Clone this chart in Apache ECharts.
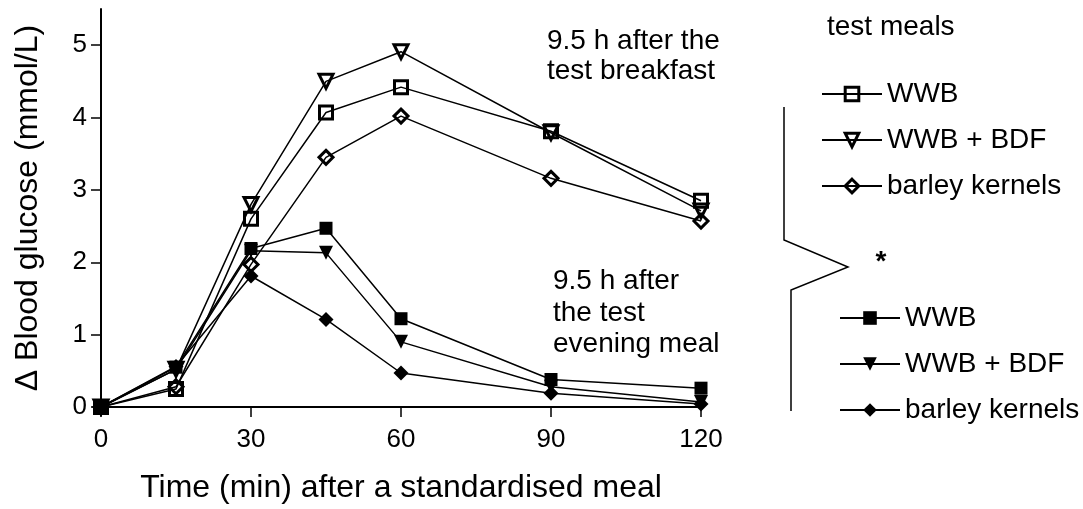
<!DOCTYPE html>
<html>
<head>
<meta charset="utf-8">
<script src="https://cdn.jsdelivr.net/npm/echarts@6/dist/echarts.min.js"></script>
<style>html,body{margin:0;padding:0;background:#fff;}#c{width:1083px;height:509px;}</style>
</head>
<body>
<div id="c"></div>
<script>
var times = [0, 15, 30, 45, 60, 90, 120];
var xTicks = [0, 30, 60, 90, 120];
var yTicks = [0, 1, 2, 3, 4, 5];
var breakfastWWB = [0, 0.25, 2.60, 4.07, 4.42, 3.81, 2.85];
var breakfastWWBBDF = [0, 0.52, 2.80, 4.50, 4.91, 3.79, 2.71];
var breakfastBarley = [0, 0.28, 1.97, 3.45, 4.02, 3.16, 2.57];
var eveningWWB = [0, 0.55, 2.19, 2.47, 1.22, 0.38, 0.26];
var eveningWWBBDF = [0, 0.52, 2.16, 2.13, 0.90, 0.28, 0.07];
var eveningBarley = [0, 0.56, 1.81, 1.21, 0.47, 0.19, 0.04];
var legendLabels = ['WWB', 'WWB + BDF', 'barley kernels'];

var FONT = 'Liberation Sans, Arial, sans-serif';
function pairs(v) { return times.map(function (t, i) { return [t, v[i]]; }); }
function mk(name, values, symbol, hollow, rotate, size) {
  return {
    type: 'line', name: name, data: pairs(values),
    symbol: symbol, symbolSize: size, symbolRotate: rotate || 0,
    showAllSymbol: true, animation: false,
    lineStyle: { color: '#000', width: 1.5 },
    itemStyle: hollow ? { color: 'rgba(0,0,0,0)', borderColor: '#000', borderWidth: 3 }
                      : { color: '#000', borderColor: '#000', borderWidth: 0 },
    emphasis: { disabled: true }
  };
}
var bNames = legendLabels.map(function (l) { return l + ' (b)'; });
var eNames = legendLabels.map(function (l) { return l + ' (e)'; });
function strip(n) { return n.replace(/ \((b|e)\)$/, ''); }

var chart = echarts.init(document.getElementById('c'), null, { renderer: 'canvas' });
chart.setOption({
  animation: false,
  backgroundColor: '#fff',
  textStyle: { fontFamily: FONT, color: '#000' },
  grid: { left: 101, right: 382, top: 9, bottom: 100 },
  xAxis: {
    type: 'value', min: 0, max: 120,
    name: 'Time (min) after a standardised meal', nameLocation: 'middle', nameGap: 65,
    nameTextStyle: { fontSize: 32, color: '#000', fontFamily: FONT },
    axisLine: { lineStyle: { color: '#000', width: 2 } },
    axisTick: { show: true, length: 10, lineStyle: { color: '#000', width: 1.5 }, customValues: xTicks },
    axisLabel: { fontSize: 26, color: '#000', margin: 20, fontFamily: FONT, customValues: xTicks },
    splitLine: { show: false }
  },
  yAxis: {
    type: 'value', min: 0, max: 5.5,
    name: '\u0394 Blood glucose (mmol/L)', nameLocation: 'middle', nameGap: 57,
    nameTextStyle: { fontSize: 32, color: '#000', fontFamily: FONT },
    axisLine: { show: true, lineStyle: { color: '#000', width: 2 } },
    axisTick: { show: true, length: 10, lineStyle: { color: '#000', width: 1.5 }, customValues: yTicks },
    axisLabel: { fontSize: 26, color: '#000', margin: 14, fontFamily: FONT, customValues: yTicks },
    splitLine: { show: false }
  },
  legend: [
    {
      left: 816, top: 75, orient: 'vertical', data: bNames,
      itemWidth: 60, itemHeight: 17, itemGap: 18,
      itemStyle: { borderWidth: 3 },
      formatter: strip,
      textStyle: { fontSize: 28, color: '#000', fontFamily: FONT },
      selectedMode: false
    },
    {
      left: 834, top: 299, orient: 'vertical', data: eNames,
      itemWidth: 60, itemHeight: 17, itemGap: 18,
      formatter: strip,
      textStyle: { fontSize: 28, color: '#000', fontFamily: FONT },
      selectedMode: false
    }
  ],
  graphic: [
    { type: 'text', x: 827, y: 27, style: { text: 'test meals', font: '28px ' + FONT, fill: '#000', textVerticalAlign: 'middle' } },
    { type: 'text', x: 547, y: 26, style: { text: '9.5 h after the\ntest breakfast', font: '28px ' + FONT, lineHeight: 30, fill: '#000' } },
    { type: 'text', x: 553, y: 266, style: { text: '9.5 h after\nthe test\nevening meal', font: '28px ' + FONT, lineHeight: 31.5, fill: '#000' } },
    { type: 'polyline', shape: { points: [[784, 107], [784, 240], [848, 267], [791, 290], [791, 411]] }, style: { stroke: '#000', lineWidth: 1.5, fill: null } },
    { type: 'text', x: 881, y: 262, style: { text: '*', font: 'bold 28px ' + FONT, fill: '#000', textAlign: 'center', textVerticalAlign: 'middle' } }
  ],
  series: [
    mk(bNames[0], breakfastWWB, 'rect', true, 0, 13),
    mk(bNames[1], breakfastWWBBDF, 'triangle', true, 180, 14),
    mk(bNames[2], breakfastBarley, 'diamond', true, 0, 14),
    mk(eNames[0], eveningWWB, 'rect', false, 0, 13),
    mk(eNames[1], eveningWWBBDF, 'triangle', false, 180, 14),
    mk(eNames[2], eveningBarley, 'diamond', false, 0, 15)
  ]
});
</script>
</body>
</html>
